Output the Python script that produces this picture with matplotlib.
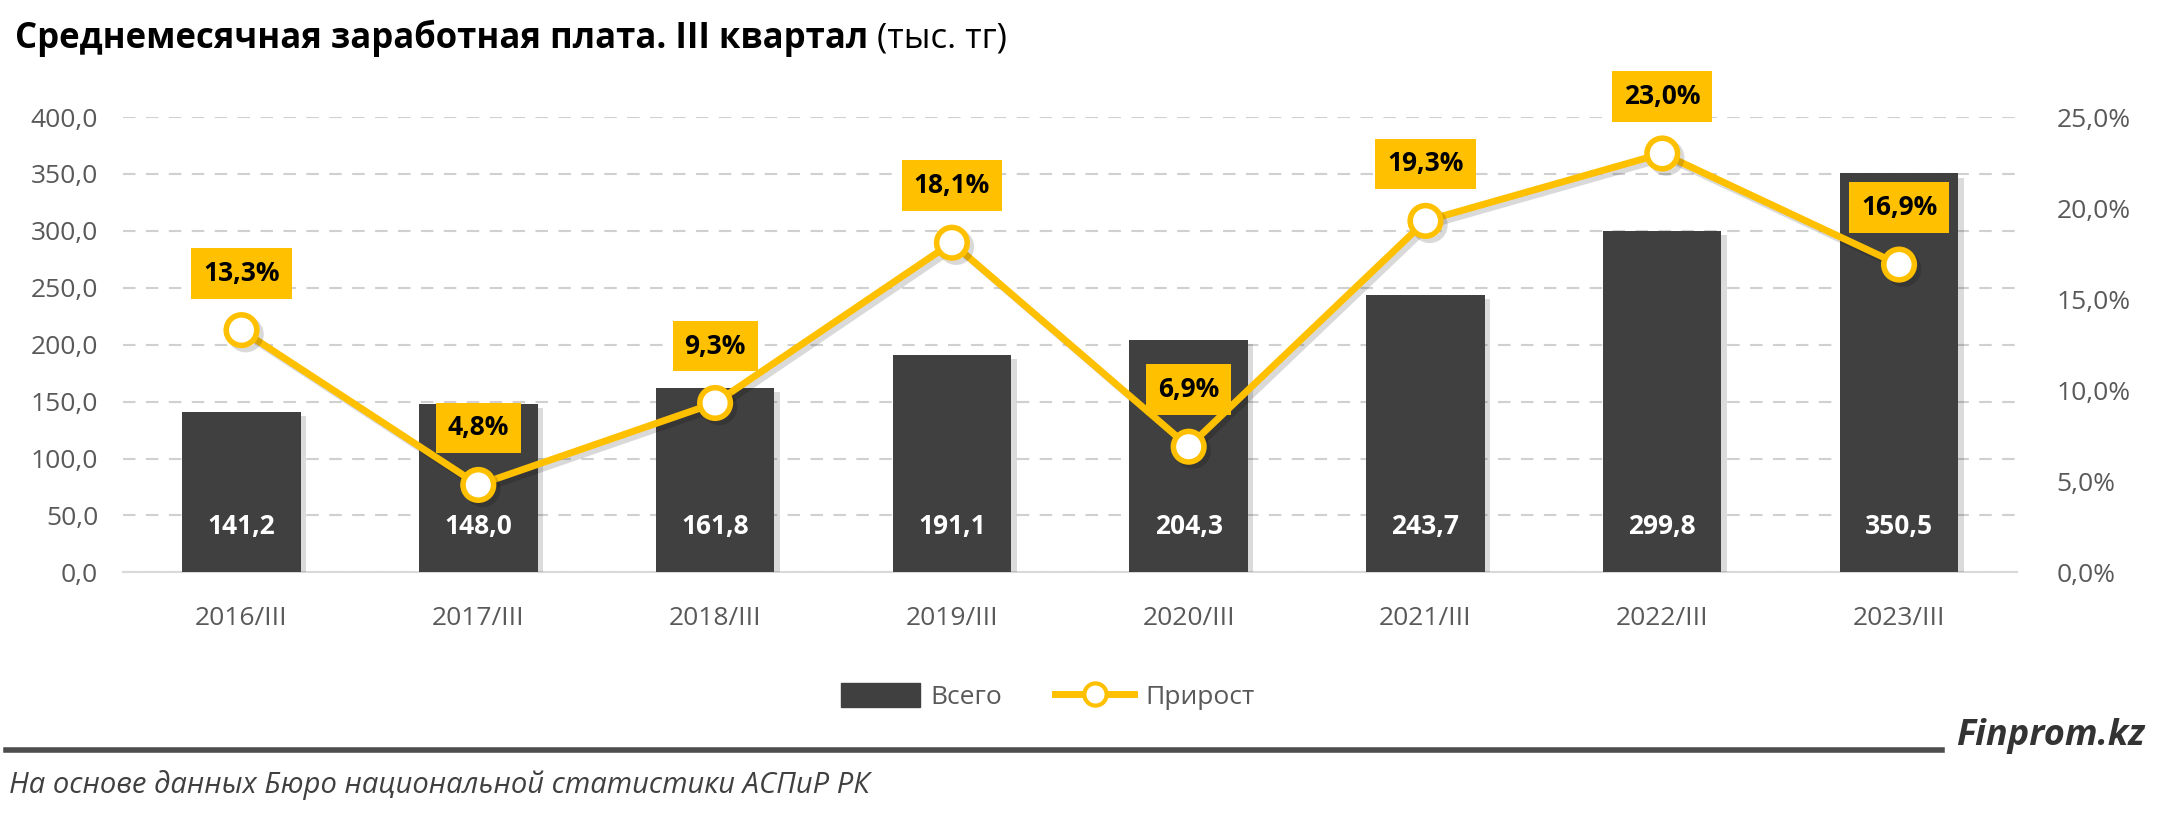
import matplotlib
matplotlib.use("Agg")
import matplotlib.pyplot as plt
import matplotlib.patheffects as pe
from matplotlib.lines import Line2D
from matplotlib.patches import Patch
from matplotlib.ticker import FuncFormatter, MultipleLocator

plt.rcParams['font.family'] = ['Open Sans', 'DejaVu Sans']

# Данные
categories = ["2016/III", "2017/III", "2018/III", "2019/III",
              "2020/III", "2021/III", "2022/III", "2023/III"]
total = [141.2, 148.0, 161.8, 191.1, 204.3, 243.7, 299.8, 350.5]
growth = [13.3, 4.8, 9.3, 18.1, 6.9, 19.3, 23.0, 16.9]

bar_color = "#404040"
line_color = "#FFC000"
tick_color = "#595959"

fig = plt.figure(figsize=(21.6, 8.13), dpi=100)
ax = fig.add_axes([0.057, 0.296, 0.877, 0.560])
ax2 = ax.twinx()
ax.set_zorder(1)
ax2.set_zorder(2)
ax.patch.set_visible(False)

x = list(range(len(categories)))

# Столбцы
bars = ax.bar(x, total, width=0.5, color=bar_color, zorder=3,
              path_effects=[pe.SimplePatchShadow(offset=(4, -3), alpha=0.15), pe.Normal()])
for xi, v in zip(x, total):
    ax.text(xi, 40, "{:.1f}".format(v).replace(".", ","), ha="center", va="center",
            color="white", fontsize=19, fontweight="bold", zorder=4)

ax.set_xlim(-0.5, len(categories) - 0.5)
ax.set_ylim(0, 400)
ax.yaxis.set_major_locator(MultipleLocator(50))
ax.yaxis.set_major_formatter(FuncFormatter(lambda v, p: "{:.1f}".format(v).replace(".", ",")))
ax.grid(axis="y", color="#D0D0D0", linestyle=(0, (6, 5)), linewidth=1.5, zorder=0)
ax.set_xticks(x)
ax.set_xticklabels(categories)
ax.tick_params(axis="both", length=0, labelsize=19, colors=tick_color)
ax.tick_params(axis="y", pad=18)
ax.tick_params(axis="x", pad=24)
for s in ["top", "right", "left"]:
    ax.spines[s].set_visible(False)
ax.spines["bottom"].set_color("#D9D9D9")
ax.spines["bottom"].set_linewidth(1.5)

# Линия прироста
ax2.plot(x, growth, color=line_color, linewidth=5, marker="o", markersize=22,
         markerfacecolor="white", markeredgecolor=line_color, markeredgewidth=4,
         zorder=5, solid_capstyle="round",
         path_effects=[pe.SimpleLineShadow(offset=(3, -3), alpha=0.15), pe.Normal()])
for xi, g in zip(x, growth):
    ax2.annotate("{:.1f}%".format(g).replace(".", ","), (xi, g), xytext=(0, 41),
                 textcoords="offset points", ha="center", va="center",
                 fontsize=19, fontweight="bold", color="black", zorder=6,
                 bbox=dict(boxstyle="square,pad=0.45", fc=line_color, ec="none"))

ax2.set_ylim(0, 25)
ax2.yaxis.set_major_locator(MultipleLocator(5))
ax2.yaxis.set_major_formatter(FuncFormatter(lambda v, p: "{:.1f}%".format(v).replace(".", ",")))
ax2.tick_params(axis="y", length=0, labelsize=19, colors=tick_color, pad=28)
for s in ["top", "right", "left", "bottom"]:
    ax2.spines[s].set_visible(False)

# Заголовок
title_bold = fig.text(0.007, 0.953, "Среднемесячная заработная плата. III квартал", fontsize=25,
                      fontweight="bold", ha="left", va="center", color="black")
renderer = fig.canvas.get_renderer()
bb = title_bold.get_window_extent(renderer).transformed(fig.transFigure.inverted())
fig.text(bb.x1 + 0.004, 0.953, "(тыс. тг)", fontsize=25, ha="left", va="center", color="black")

# Легенда
handles = [Patch(color=bar_color, label="Всего"),
           Line2D([0], [0], color=line_color, linewidth=5, marker="o", markersize=16,
                  markerfacecolor="white", markeredgecolor=line_color, markeredgewidth=3,
                  label="Прирост")]
fig.legend(handles=handles, loc="center", bbox_to_anchor=(0.485, 0.143), ncol=2,
           frameon=False, fontsize=19, labelcolor=tick_color, handlelength=3.0,
           handleheight=1.0, columnspacing=2.0, handletextpad=0.4)

# Подвал
fig.add_artist(Line2D([0.003, 0.899], [0.077, 0.077], transform=fig.transFigure,
                      color="#4D4D4D", linewidth=4))
fig.text(0.993, 0.072, "Finprom.kz", fontsize=26, fontweight="bold", style="italic",
         ha="right", va="bottom", color="#333333")
fig.text(0.004, 0.035, "На основе данных Бюро национальной статистики АСПиР РК",
         fontsize=21, style="italic", ha="left", va="center", color="#404040")

fig.savefig("out.png", dpi=100)
